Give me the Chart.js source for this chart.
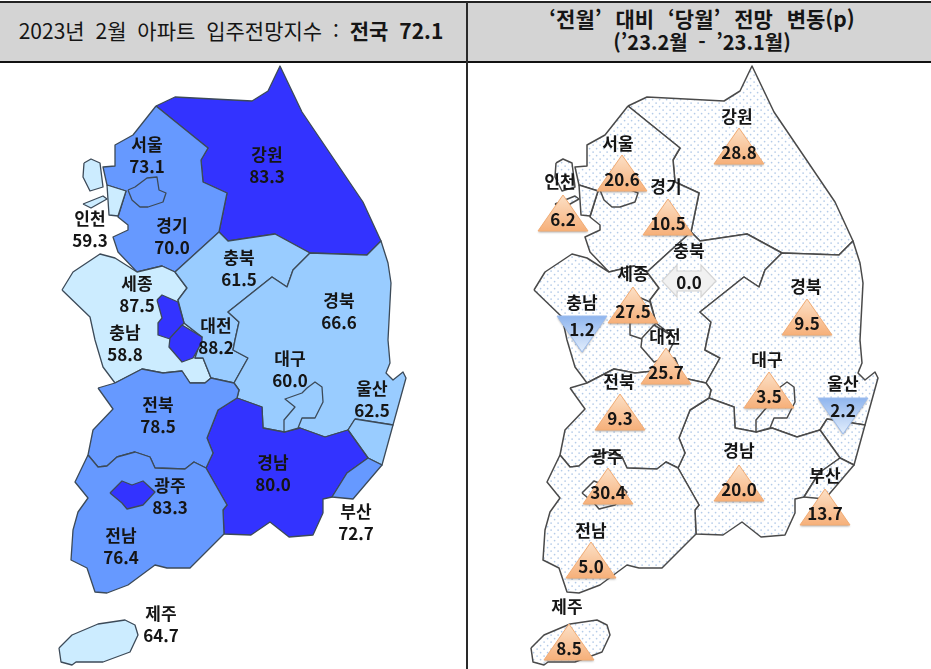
<!DOCTYPE html>
<html lang="ko">
<head>
<meta charset="utf-8">
<title>2023년 2월 아파트 입주전망지수</title>
<script src="https://cdn.jsdelivr.net/npm/chart.js@4/dist/chart.umd.min.js"></script>
<style>
html,body{margin:0;padding:0;background:#fff;width:931px;height:669px;overflow:hidden}
#wrap{position:relative;width:931px;height:669px;font-family:"Noto Sans CJK KR","Noto Sans",sans-serif;color:#151515}
canvas{position:absolute;left:0;top:0}
#band{position:absolute;left:0;top:1px;width:931px;height:58px;background:#d4d4d4;border-top:2px solid #222;border-bottom:2px solid #111}
#split{position:absolute;left:466px;top:2px;width:2px;height:667px;background:#2a2a2a}
.h{position:absolute;white-space:pre;text-align:center;font-size:21px;line-height:24px;word-spacing:5px}
#hl{left:0;width:462px;top:18px}
#hl b{font-weight:700}
#hr1{left:468px;width:468px;top:6px;font-weight:700;font-size:21px;word-spacing:8px}
#hr2{left:468px;width:468px;top:30px;font-weight:700;font-size:20px}
</style>
</head>
<body>
<div id="wrap">
<canvas id="c" width="931" height="669"></canvas>
<div id="band"></div><div id="split"></div>
<div class="h" id="hl">2023년 2월 아파트 입주전망지수 : <b>전국 72.1</b></div>
<div class="h" id="hr1">‘전월’ 대비 ‘당월’ 전망 변동(p)</div>
<div class="h" id="hr2">(’23.2월 - ’23.1월)</div>
</div>
<script>
// ---- values ----
const regions      = ['강원','경기','충남','충북','경북','울산','경남','부산','전북','전남','인천','서울','대구','세종','대전','광주','제주'];
const indexValues  = [83.3, 70.0, 58.8, 61.5, 66.6, 62.5, 80.0, 72.7, 78.5, 76.4, 59.3, 73.1, 60.0, 87.5, 88.2, 83.3, 64.7];
const changeValues = [28.8, 10.5, -1.2, 0.0, 9.5, -2.2, 20.0, 13.7, 9.3, 5.0, 6.2, 20.6, 3.5, 27.5, 25.7, 30.4, 8.5];
const fillBands    = [3, 2, 0, 1, 1, 1, 3, 2, 2, 2, 0, 2, 1, 3, 3, 3, 0];

// ---- palette ----
const palette = ['#CCECFF','#99CCFF','#6699FF','#3333FF'];

// ---- base map geometry (page-unit outlines, not chart values) ----
const outlines = {
 '강원':[[[156,106],[175,97],[252,101],[268,91],[280,66],[302,112],[363,202],[381,241],[367,255],[310,253],[275,234],[228,241],[219,232],[227,193],[203,182],[201,160],[208,148]]],
 '경기':[[[156,106],[208,148],[201,160],[203,182],[227,193],[219,232],[175,272],[162,266],[137,272],[118,252],[113,237],[128,230],[128,225],[118,217],[126,191],[107,185],[103,167],[115,166],[115,145],[133,135]]],
 '충남':[[[62,290],[73,272],[100,254],[115,258],[137,272],[162,266],[175,272],[187,288],[178,300],[184,323],[202,337],[195,358],[203,358],[211,378],[205,383],[190,383],[182,371],[163,373],[142,369],[115,383],[103,367],[95,340],[90,317]]],
 '충북':[[[175,272],[219,232],[228,241],[275,234],[310,253],[293,270],[287,287],[272,277],[228,312],[239,322],[235,340],[233,350],[248,358],[234,383],[211,378],[203,358],[195,358],[202,337],[184,323],[178,300],[187,288]]],
 '경북':[[[310,253],[367,255],[381,241],[388,263],[391,283],[388,340],[390,363],[386,373],[393,380],[403,372],[406,378],[393,425],[355,419],[348,430],[325,437],[300,428],[284,432],[263,428],[262,407],[237,398],[239,390],[234,383],[248,358],[233,350],[235,340],[239,322],[228,312],[272,277],[287,287],[293,270]]],
 '울산':[[[355,419],[393,425],[382,465],[368,458],[348,430]]],
 '경남':[[[237,398],[262,407],[263,428],[284,432],[300,428],[325,437],[348,430],[368,458],[347,473],[332,497],[323,499],[323,513],[313,535],[289,537],[270,522],[251,535],[224,534],[223,510],[227,505],[206,468],[213,453],[207,438],[218,410]]],
 '부산':[[[368,458],[382,465],[353,499],[332,497],[347,473]]],
 '전북':[[[98,388],[115,383],[142,369],[163,373],[182,371],[190,383],[205,383],[211,378],[234,383],[239,390],[237,398],[218,410],[207,438],[213,453],[206,468],[194,462],[185,469],[155,468],[150,457],[135,452],[117,457],[107,466],[98,467],[88,455],[93,430],[113,409]]],
 '전남':[[[88,455],[98,467],[107,466],[117,457],[135,452],[150,457],[155,468],[185,469],[194,462],[206,468],[227,505],[223,510],[224,534],[190,568],[167,568],[155,565],[128,585],[107,593],[95,592],[87,568],[71,560],[73,530],[78,512],[88,498],[75,482]]],
 '인천':[[[84,163],[91,159],[100,163],[103,187],[90,191],[83,177]],[[83,204],[103,196],[107,199],[91,208]],[[107,185],[126,191],[118,216],[109,215]]],
 '서울':[[[128,190],[135,187],[147,178],[157,177],[159,190],[166,193],[163,202],[148,207],[140,207],[132,200]]],
 '대구':[[[307,388],[315,382],[322,387],[323,402],[315,418],[302,418],[298,428],[284,432],[284,420],[295,407],[285,399],[302,393]]],
 '세종':[[[157,300],[162,295],[178,302],[184,323],[170,339],[158,335],[158,323],[162,318]]],
 '대전':[[[182,325],[202,337],[202,342],[193,358],[182,362],[169,347],[170,338]]],
 '광주':[[[110,493],[122,481],[132,485],[143,481],[155,492],[143,505],[127,509],[122,503]]],
 '제주':[[[59,648],[72,635],[98,624],[125,620],[135,625],[138,635],[130,652],[103,662],[76,662],[72,665],[61,662]]]
};

// ---- label anchors (page units) ----
const leftNameAnchors = {'강원':[267,155],'서울':[147,145],'경기':[172,226],'인천':[90,219],'충북':[239,258],'경북':[339,301],'세종':[137,284],'충남':[125,333],'대전':[216,326],'대구':[290,359],'울산':[372,389],'전북':[158,405],'경남':[273,463],'광주':[170,486],'전남':[121,536],'부산':[356,512],'제주':[161,614]};
const rightNameAnchors = {'강원':[737,117],'서울':[618,144],'인천':[560,182],'경기':[666,187],'충북':[689,251],'세종':[633,274],'충남':[582,303],'경북':[806,287],'대전':[665,337],'전북':[619,382],'대구':[767,360],'울산':[843,384],'경남':[739,451],'광주':[607,457],'부산':[825,476],'전남':[591,531],'제주':[567,607]};
const markerAnchors = {'강원':[739,146],'서울':[622,173],'인천':[563,213],'경기':[668,217],'충북':[689,281],'세종':[633,305],'충남':[582,334],'경북':[807,317],'대전':[666,366],'전북':[620,412],'대구':[769,390],'울산':[843,416],'경남':[739,483],'광주':[608,486],'부산':[825,507],'전남':[591,560],'제주':[569,642]};
const markerTextDy = {'충남':-11,'울산':-12,'충북':-5};

// ---- marker sprites ----
function sprite(w,h,paint){const s=document.createElement('canvas');s.width=w;s.height=h;paint(s.getContext('2d'));return s;}
function triSprite(down,top,bottom,edge){
  return sprite(56,44,g=>{
    const y0=4,y1=40;
    const gr=g.createLinearGradient(0,y0,0,y1);gr.addColorStop(0,top);gr.addColorStop(1,bottom);
    g.shadowColor='rgba(90,90,90,.45)';g.shadowBlur=2;g.shadowOffsetY=1.5;
    g.beginPath();
    if(down){g.moveTo(3,y0);g.lineTo(53,y0);g.lineTo(28,y1);}else{g.moveTo(28,y0);g.lineTo(53,y1);g.lineTo(3,y1);}
    g.closePath();g.fillStyle=gr;g.fill();
    g.shadowColor='transparent';g.strokeStyle=edge;g.lineWidth=1;g.stroke();
  });
}
const upMark=triSprite(false,'#FCE0C6','#F6B07A','#F2AC74');
const downMark=triSprite(true,'#8FB5EE','#E3EEFC','#9DBDEE');
const flatMark=sprite(58,38,g=>{
  g.beginPath();
  [[2,19],[17,3],[17,9],[41,9],[41,3],[56,19],[41,35],[41,29],[17,29],[17,35]].forEach((p,i)=>i?g.lineTo(p[0],p[1]):g.moveTo(p[0],p[1]));
  g.closePath();g.fillStyle='#F1F1F1';g.fill();g.strokeStyle='#D4D4D4';g.lineWidth=1.2;g.stroke();
});

// ---- dotted fill of the right map ----
const dotTile=sprite(7,7,g=>{
  g.fillStyle='#fff';g.fillRect(0,0,7,7);g.fillStyle='#B4CBE8';
  [[1.6,1.6],[5.1,5.1]].forEach(p=>{g.beginPath();g.arc(p[0],p[1],.85,0,7);g.fill();});
});
const dotFill=document.createElement('canvas').getContext('2d').createPattern(dotTile,'repeat');

// ---- datasets ----
const datasets=[];
function addMap(xAxisID,fillOf,border,width){
  regions.forEach((r,i)=>outlines[r].forEach(part=>{
    datasets.push({type:'scatter',label:r,xAxisID,yAxisID:'y',showLine:true,tension:0,
      data:part.concat([part[0]]).map(p=>({x:p[0],y:p[1]})),
      fill:'shape',backgroundColor:fillOf(i),borderColor:border,borderWidth:width,borderJoinStyle:'round',
      pointRadius:0,pointHoverRadius:0});
  }));
}
addMap('xL',i=>palette[fillBands[i]],'#3C4A58',1.3);
addMap('xR',()=>dotFill,'#4A4A4A',1.5);
const markerData=regions.map((r,i)=>({x:markerAnchors[r][0],y:markerAnchors[r][1],v:changeValues[i]}));
datasets.push({type:'scatter',label:'변동',xAxisID:'xL',yAxisID:'y',data:markerData,showLine:false,
  pointStyle:c=>{const v=c.raw?c.raw.v:1;return v>0?upMark:v<0?downMark:flatMark;},pointRadius:20,pointHoverRadius:20});
datasets.forEach((d,i)=>{d.order=datasets.length-i;});

// ---- text labels through the scales ----
const textPlugin={id:'regionText',afterDatasetsDraw(chart){
  const g=chart.ctx,X=chart.scales.xL,Y=chart.scales.y;
  g.save();g.textAlign='center';g.textBaseline='middle';g.fillStyle='#151515';
  g.font='700 17px "Noto Sans CJK KR","Noto Sans",sans-serif';
  const put=(s,a,dy)=>g.fillText(s,X.getPixelForValue(a[0]),Y.getPixelForValue(a[1]+dy));
  regions.forEach((r,i)=>{
    put(r,leftNameAnchors[r],0);
    put(indexValues[i].toFixed(1),leftNameAnchors[r],22);
    put(r,rightNameAnchors[r],0);
    put(Math.abs(changeValues[i]).toFixed(1),markerAnchors[r],(markerTextDy[r]||0)+7);
  });
  g.restore();
}};

new Chart(document.getElementById('c'),{
  data:{datasets},
  plugins:[textPlugin],
  options:{responsive:false,animation:false,events:[],devicePixelRatio:1,
    layout:{padding:0,autoPadding:false},
    plugins:{legend:{display:false},title:{display:false},tooltip:{enabled:false}},
    scales:{
      xL:{type:'linear',position:'bottom',min:0,max:931,display:false},
      xR:{type:'linear',position:'bottom',min:-472,max:459,display:false},
      y:{type:'linear',min:0,max:669,reverse:true,display:false}
    }}
});
</script>
</body>
</html>
